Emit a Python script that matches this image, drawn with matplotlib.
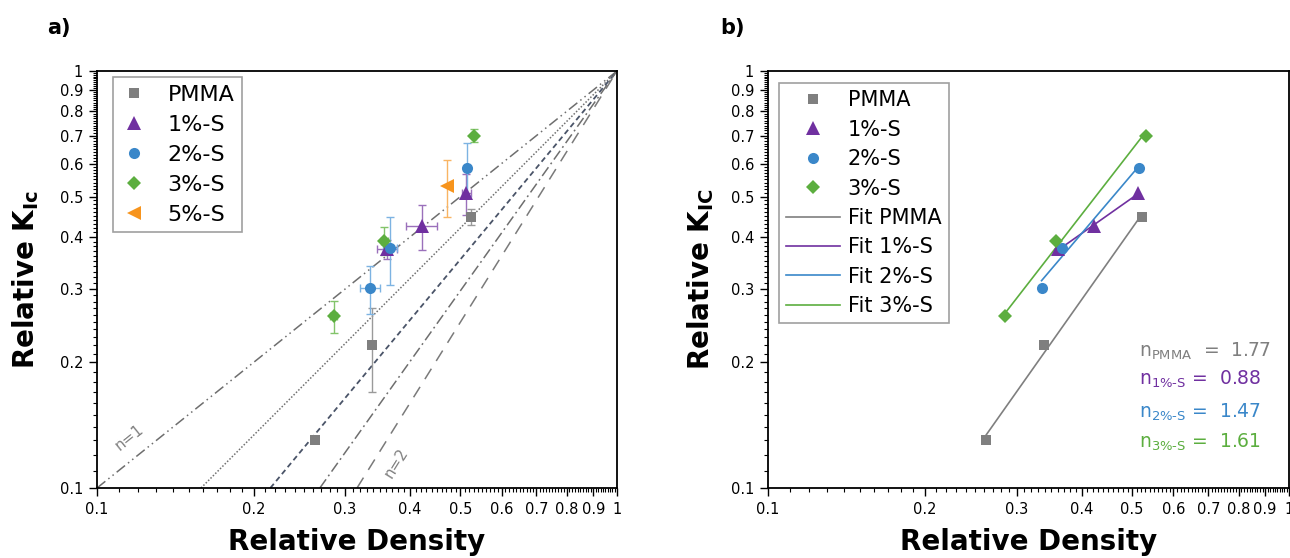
import numpy as np
import matplotlib
matplotlib.use("Agg")
import matplotlib.pyplot as plt
from matplotlib.ticker import FixedLocator, FixedFormatter, NullFormatter

plt.rcParams["font.family"] = ["DejaVu Sans"]
plt.rcParams["mathtext.fontset"] = "dejavusans"

# ---------------- data ----------------
series_names = ["PMMA", "1%-S", "2%-S", "3%-S", "5%-S"]

pmma_x = [0.262, 0.338, 0.523]
pmma_y = [0.130, 0.220, 0.447]
pmma_xerr = [0.0, 0.0, 0.0]
pmma_yerr = [0.0, 0.050, 0.020]

s1_x = [0.361, 0.4225, 0.513]
s1_y = [0.374, 0.425, 0.509]
s1_xerr = [0.016, 0.029, 0.010]
s1_yerr = [0.020, 0.053, 0.057]

s2_x = [0.335, 0.366, 0.515]
s2_y = [0.301, 0.377, 0.586]
s2_xerr = [0.015, 0.011, 0.005]
s2_yerr = [0.040, 0.070, 0.085]

s3_x = [0.285, 0.357, 0.5315]
s3_y = [0.258, 0.392, 0.700]
s3_xerr = [0.005, 0.005, 0.005]
s3_yerr = [0.023, 0.030, 0.026]

s5_x = [0.4705]
s5_y = [0.530]
s5_xerr = [0.0]
s5_yerr = [0.083]

# scaling-law reference exponents (panel a)
ref_n = [1.0, 1.25, 1.5, 1.75, 2.0]

# fitted exponents (panel b)
fit_names = ["PMMA", "1%-S", "2%-S", "3%-S"]
fit_n = [1.77, 0.88, 1.47, 1.61]

major_ticks = [0.1, 0.2, 0.3, 0.4, 0.5, 0.6, 0.7, 0.8, 0.9, 1.0]
tick_labels = ["0.1", "0.2", "0.3", "0.4", "0.5", "0.6", "0.7", "0.8", "0.9", "1"]

# ---------------- styles ----------------
colors = ["#7f7f7f", "#7030a0", "#3a87c9", "#5cae3f", "#f7941d"]
err_colors = ["#9a9a9a", "#9a70bb", "#7db3e2", "#82c46a", "#f9b463"]
markers = ["s", "^", "o", "D", "<"]
msizes = [7.5, 9.5, 8.0, 7.0, 10.0]

ref_colors = ["#6e6e6e", "#707070", "#4a5468", "#6e6e6e", "#7a7a7a"]
ref_styles = [(0, (7, 2.5, 1, 2.5, 1, 2.5)),
              (0, (1, 1.2)),
              (0, (3, 2)),
              (0, (7, 2.5, 1.2, 2.5)),
              (0, (8, 6))]
ref_lw = [1.1, 1.1, 1.3, 1.1, 1.1]

all_x = [pmma_x, s1_x, s2_x, s3_x, s5_x]
all_y = [pmma_y, s1_y, s2_y, s3_y, s5_y]
all_xerr = [pmma_xerr, s1_xerr, s2_xerr, s3_xerr, s5_xerr]
all_yerr = [pmma_yerr, s1_yerr, s2_yerr, s3_yerr, s5_yerr]

fig = plt.figure(figsize=(12.9, 5.58), dpi=100)
W, H = 1290.0, 558.0
ax_a = fig.add_axes([97 / W, (H - 488) / H, 520 / W, 417 / H])
ax_b = fig.add_axes([768 / W, (H - 488) / H, 521 / W, 417 / H])

major_r = [round(m, 2) for m in major_ticks]
minor_ticks = [round(v, 2) for v in np.arange(0.11, 1.0, 0.01)
               if round(v, 2) not in major_r]


def style_axes(ax, ylabel):
    ax.set_xscale("log")
    ax.set_yscale("log")
    ax.set_xlim(0.1, 1.0)
    ax.set_ylim(0.1, 1.0)
    for axis in (ax.xaxis, ax.yaxis):
        axis.set_major_locator(FixedLocator(major_ticks))
        axis.set_major_formatter(FixedFormatter(tick_labels))
        axis.set_minor_locator(FixedLocator(minor_ticks))
        axis.set_minor_formatter(NullFormatter())
    ax.tick_params(which="major", direction="out", length=6, width=1.0,
                   labelsize=10.5, pad=4, top=False, right=False)
    ax.tick_params(which="minor", direction="out", length=3.2, width=0.8,
                   top=False, right=False)
    for sp in ax.spines.values():
        sp.set_linewidth(1.3)
        sp.set_color("black")
    ax.set_xlabel("Relative Density", fontsize=20, fontweight="bold", va="top")
    ax.xaxis.set_label_coords(0.5, -0.096)
    ax.set_ylabel(ylabel, fontsize=20, fontweight="bold")


style_axes(ax_a, r"Relative K$_{\mathbf{Ic}}$")
style_axes(ax_b, r"Relative K$_{\mathbf{IC}}$")
ax_a.yaxis.set_label_coords(-0.108, 0.5)
ax_b.yaxis.set_label_coords(-0.100, 0.5)

# ---------------- panel a: reference lines ----------------
for n, c, ls, lw in zip(ref_n, ref_colors, ref_styles, ref_lw):
    xs = np.logspace(np.log10(0.1 ** (1.0 / n)), 0, 200)
    ax_a.plot(xs, xs ** n, color=c, linestyle=ls, linewidth=lw, zorder=1)


def line_angle(ax, n):
    p1 = ax.transData.transform((0.3, 0.3 ** n))
    p2 = ax.transData.transform((0.6, 0.6 ** n))
    return np.degrees(np.arctan2(p2[1] - p1[1], p2[0] - p1[0]))


ax_a.text(0.1152, 0.1325, "n=1", fontsize=11, color="#808080",
          rotation=line_angle(ax_a, 1.0), ha="center", va="center",
          rotation_mode="anchor")
ax_a.text(0.3758, 0.1148, "n=2", fontsize=11, color="#808080",
          rotation=line_angle(ax_a, 2.0), ha="center", va="center",
          rotation_mode="anchor")

# ---------------- panel a: data with error bars ----------------
handles_a = []
for name, x, y, xe, ye, c, ec, m, ms in zip(series_names, all_x, all_y,
                                            all_xerr, all_yerr, colors,
                                            err_colors, markers, msizes):
    xe_arr = xe if any(xe) else None
    ye_arr = ye if any(ye) else None
    ax_a.errorbar(x, y, xerr=xe_arr, yerr=ye_arr, fmt="none", ecolor=ec,
                  elinewidth=1.0, capsize=3, capthick=1.0, zorder=3)
    h, = ax_a.plot(x, y, linestyle="none", marker=m, markersize=ms,
                   color=c, markeredgewidth=0, label=name, zorder=4)
    handles_a.append(h)

leg_a = ax_a.legend(handles=handles_a, loc="upper left",
                    bbox_to_anchor=(0.031, 0.986), fontsize=16,
                    handlelength=1.2, handletextpad=0.9, labelspacing=0.45,
                    borderpad=0.35, borderaxespad=0.0, fancybox=False,
                    framealpha=1.0, edgecolor="#a0a0a0")
leg_a.get_frame().set_linewidth(1.2)

# ---------------- panel b: fits ----------------
handles_pts = []
handles_fit = []
for i, (name, n) in enumerate(zip(fit_names, fit_n)):
    x = np.array(all_x[i])
    y = np.array(all_y[i])
    lx, ly = np.log10(x), np.log10(y)
    b = ly.mean() - n * lx.mean()
    xs = np.array([x.min(), x.max()])
    hf, = ax_b.plot(xs, 10 ** b * xs ** n, color=colors[i], linewidth=1.2,
                    label="Fit " + name, zorder=2)
    hp, = ax_b.plot(x, y, linestyle="none", marker=markers[i],
                    markersize=msizes[i], color=colors[i], markeredgewidth=0,
                    label=name, zorder=4)
    handles_pts.append(hp)
    handles_fit.append(hf)

leg_b = ax_b.legend(handles=handles_pts + handles_fit, loc="upper left",
                    bbox_to_anchor=(0.021, 0.971), fontsize=15,
                    handlelength=2.6, handletextpad=0.35, labelspacing=0.45,
                    borderpad=0.35, borderaxespad=0.0, fancybox=False,
                    framealpha=1.0, edgecolor="#a0a0a0")
leg_b.get_frame().set_linewidth(1.2)

# exponent annotations: base "n", subscript name, then the value
n_text_y = [0.314, 0.247, 0.168, 0.096]
n_text_sub = [r"$_{\mathregular{PMMA}}$",
              r"$_{\mathregular{1\%}\text{-}\mathregular{S}}$",
              r"$_{\mathregular{2\%}\text{-}\mathregular{S}}$",
              r"$_{\mathregular{3\%}\text{-}\mathregular{S}}$"]
n_text_gap = ["  =  ", " =  ", " =  ", " =  "]
for sub, n, ty, gap, c in zip(n_text_sub, fit_n, n_text_y, n_text_gap, colors):
    ax_b.text(0.712, ty, "n" + sub + gap + "%.2f" % n,
              transform=ax_b.transAxes, fontsize=13.5, color=c,
              ha="left", va="baseline")

# panel tags
fig.text(47 / W, (H - 28) / H, "a)", fontsize=15, fontweight="bold",
         ha="left", va="center")
fig.text(720 / W, (H - 28) / H, "b)", fontsize=15, fontweight="bold",
         ha="left", va="center")

fig.savefig("out.png", dpi=100)
